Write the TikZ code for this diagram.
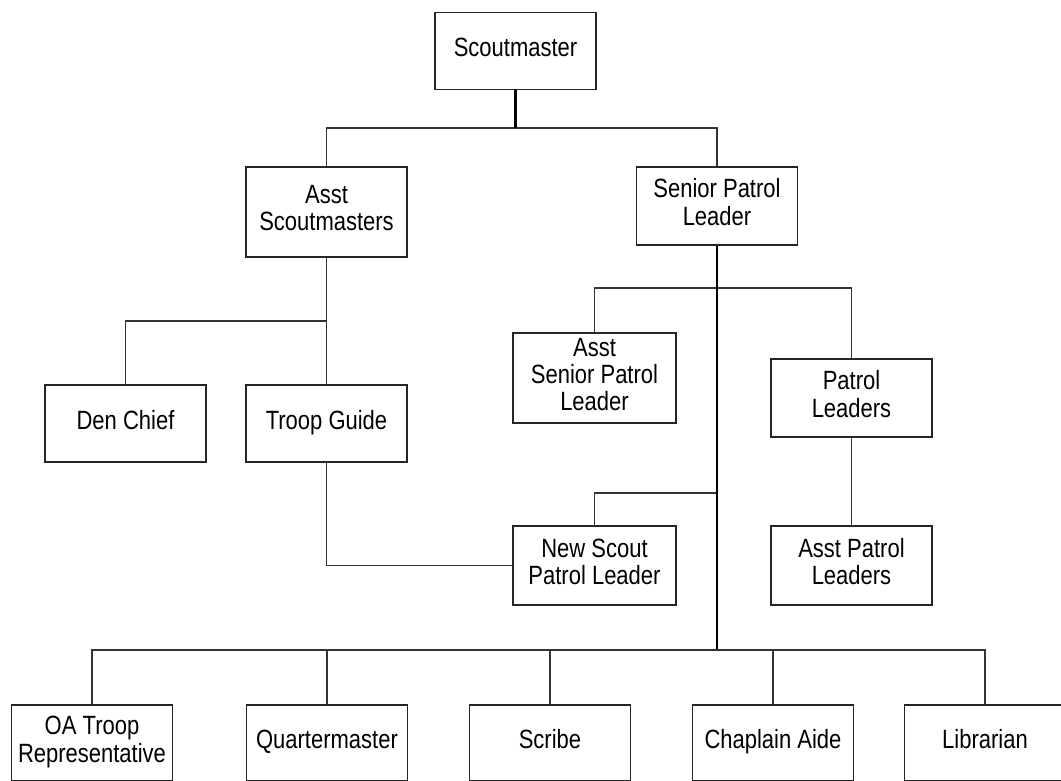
\documentclass[tikz,border=0pt]{standalone}
\usepackage{graphicx}
\usepackage{fontspec}
\setmainfont{Liberation Sans}
\usetikzlibrary{positioning,calc}

% role titles are set a little taller than wide
\newcommand{\rolename}[1]{\scalebox{1}[1.2]{\begin{tabular}{@{}c@{}}#1\end{tabular}}}

\begin{document}
\begin{tikzpicture}[x=1pt, y=-1pt,
    role/.style={draw=black!85, line width=1.6pt, fill=white, inner sep=0pt,
        minimum width=161pt, minimum height=77pt,
        font=\fontsize{22}{22.5}\selectfont},
    link/.style={draw=black!80, line width=1.6pt},
    trunk/.style={draw=black, line width=2.8pt}]
    \useasboundingbox (0,0) rectangle (1061,780);

    % Top of the troop
    \node[role] (sm) at (515.5,51) {\rolename{Scoutmaster}};
    \node[role, minimum height=90pt] (asm) at (326.5,212) {\rolename{Asst\\Scoutmasters}};
    \node[role, minimum height=78pt] (spl) at (717,206) {\rolename{Senior Patrol\\Leader}};
    \coordinate (busA) at (515.5,128);
    \draw[link] (asm.north) |- (busA) -| (spl.north);
    \draw[trunk] (sm.south) -- (busA);

    % Adult side
    \node[role] (den) at (125.5,423.5) {\rolename{Den Chief}};
    \node[role] (tg) at (326.5,423.5) {\rolename{Troop Guide}};
    \coordinate (busB) at (326.5,321);
    \draw[link] (asm.south) -- (tg.north);
    \draw[link] (den.north) |- (busB);

    % Youth leaders
    \node[role, minimum width=163pt, minimum height=90pt] (aspl) at (594.5,378) {\rolename{Asst\\Senior Patrol\\Leader}};
    \node[role, minimum height=78pt] (pl) at (851.5,398) {\rolename{Patrol\\Leaders}};
    \node[role, minimum width=163pt, minimum height=79pt] (nspl) at (594.5,565.5) {\rolename{New Scout\\Patrol Leader}};
    \node[role, minimum height=79pt] (apl) at (851.5,565.5) {\rolename{Asst Patrol\\Leaders}};
    \coordinate (busC) at (717,288);
    \coordinate (busD) at (717,493);
    \coordinate (busE) at (717,650);
    \draw[link] (aspl.north) |- (busC) -| (pl.north);
    \draw[link] (pl.south) -- (apl.north);
    \draw[link] (nspl.north) |- (busD);
    \draw[link] (tg.south) |- (nspl.west);
    \draw[trunk] (spl.south) -- (busE);

    % Bottom row
    \foreach \name/\x/\txt in {oa/92/{OA Troop\\Representative}, qm/327/Quartermaster,
        scr/550/Scribe, chap/773/Chaplain Aide, lib/985/Librarian} {
        \node[role, minimum height=76pt] (\name) at (\x,743) {\rolename{\txt}};
    }
    \draw[link] (oa.north) |- (busE) -| (lib.north);
    \foreach \name in {qm, scr, chap} {
        \draw[link] (\name.north) -- (\name.north |- busE);
    }
\end{tikzpicture}
\end{document}
